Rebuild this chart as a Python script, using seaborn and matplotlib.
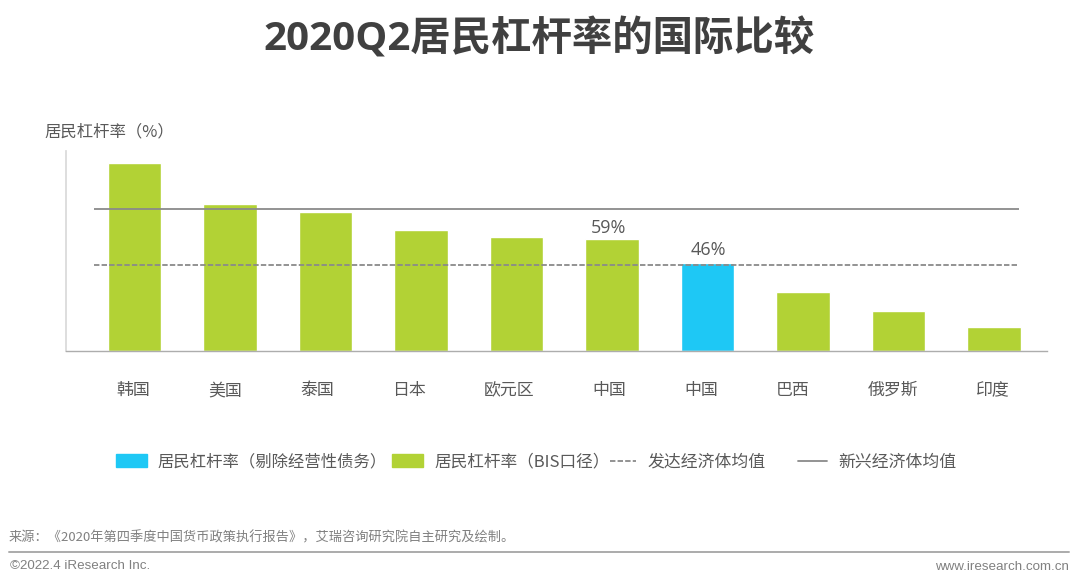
import matplotlib
matplotlib.use('Agg')
import matplotlib.pyplot as plt
from matplotlib.lines import Line2D
from matplotlib.patches import Rectangle
import seaborn as sns
import pandas as pd

countries = ['韩国', '美国', '泰国', '日本', '欧元区', '中国', '中国 ', '巴西', '俄罗斯', '印度']
tick_labels = ['韩国', '美国', '泰国', '日本', '欧元区', '中国', '中国', '巴西', '俄罗斯', '印度']
leverage = [99.6, 78, 73.4, 64, 60.5, 59.5, 46.6, 31, 21, 12.4]
caliber = ['BIS', 'BIS', 'BIS', 'BIS', 'BIS', 'BIS', 'adj', 'BIS', 'BIS', 'BIS']
emerging_avg = 75.5
developed_avg = 45.7
bar_labels = {5: '59%', 6: '46%'}

W, H = 1080, 586
GREEN = '#B2D235'
BLUE = '#1EC8F5'
GREY = '#8A8A8A'
TEXT = '#595959'
LATIN_CJK = ['Open Sans', 'Noto Sans CJK SC', 'DejaVu Sans']

sns.set_theme(style='white')
plt.rcParams['font.family'] = ['Noto Sans CJK SC', 'DejaVu Sans']


def fx(px):
    return px / W


def fy(py):
    return 1 - py / H


# axes box in pixels, bars sit 95.5px apart starting from x=134.5
left, right, top, bottom = 66, 1047, 151, 350.5
step = 95.5
x0 = 134.5

fig = plt.figure(figsize=(W / 100, H / 100), dpi=100, facecolor='white')
ax = fig.add_axes([fx(left), fy(bottom), fx(right - left), (bottom - top) / H])

df = pd.DataFrame({'country': countries, 'value': leverage, 'caliber': caliber})
sns.barplot(data=df, x='country', y='value', hue='caliber', dodge=False, legend=False,
            palette={'BIS': GREEN, 'adj': BLUE}, width=0.555, saturation=1, ax=ax, zorder=2)

ax.set_xlim((left - x0) / step, (right - x0) / step)
ax.set_ylim(0, 106.1)
ax.set_xlabel('')
ax.set_ylabel('')
ax.set_yticks([])
ax.patch.set_alpha(0)

# the labels in the source do not line up with the bars
label_px = [133, 225, 317, 409, 509, 609, 701, 793, 893, 993]
ax.set_xticks([(p - x0) / step for p in label_px])
ax.set_xticklabels(tick_labels, fontsize=12.2, color=TEXT)
ax.tick_params(axis='x', length=0, pad=22)

for side in ['top', 'right']:
    ax.spines[side].set_visible(False)
ax.spines['left'].set_color('#D9D9D9')
ax.spines['bottom'].set_color('#ADADAD')
ax.spines['bottom'].set_linewidth(1)
ax.spines['bottom'].set_zorder(3)

line_from, line_to = (94 - x0) / step, (1019 - x0) / step
ax.hlines(emerging_avg, line_from, line_to, color=GREY, lw=1.3, zorder=4)
ax.hlines(developed_avg, line_from, line_to, color=GREY, lw=1.3, linestyles=(0, (3, 1.2)), zorder=4)

label_gap = {5: 1.0, 6: 2.3}
for i, txt in bar_labels.items():
    ax.text(i - 0.04 if i == 5 else i + 0.01, leverage[i] + label_gap[i], txt, ha='center', va='bottom',
            fontsize=13, color=TEXT, family=['Open Sans', 'DejaVu Sans'])

fig.text(fx(539.5), fy(39), '2020Q2居民杠杆率的国际比较', ha='center', va='center',
         fontsize=29.1, fontweight='bold', color='#404040', family=LATIN_CJK)
fig.text(fx(44), fy(132), '居民杠杆率（%）', ha='left', va='center', fontsize=11.8, color=TEXT)

# legend is laid out by hand, the gaps in the source are uneven
fig.add_artist(Rectangle((fx(116), fy(467)), 31 / W, 13 / H, color=BLUE, transform=fig.transFigure))
fig.add_artist(Rectangle((fx(392), fy(467)), 31 / W, 13 / H, color=GREEN, transform=fig.transFigure))
fig.add_artist(Line2D([fx(610), fx(636)], [fy(461), fy(461)], color=GREY, lw=1.3,
                      linestyle=(0, (3, 1.2)), transform=fig.transFigure))
fig.add_artist(Line2D([fx(798), fx(827)], [fy(461), fy(461)], color=GREY, lw=1.3,
                      transform=fig.transFigure))
for px, txt, size in [(157, '居民杠杆率（剔除经营性债务）', 11.75), (434, '居民杠杆率（BIS口径）', 12),
                      (648, '发达经济体均值', 12.15), (838, '新兴经济体均值', 12.15)]:
    fig.text(fx(px), fy(462), txt, ha='left', va='center', fontsize=size, color=TEXT)

# footer
fig.text(fx(9), fy(538), '来源：《2020年第四季度中国货币政策执行报告》，艾瑞咨询研究院自主研究及绘制。',
         ha='left', va='center', fontsize=9.5, color='#808080')
fig.add_artist(Line2D([fx(9), fx(1069)], [fy(551.5), fy(551.5)], color='#ABABAB', lw=1.4,
                      transform=fig.transFigure))
fig.text(fx(10), fy(566), '©2022.4 iResearch Inc.', ha='left', va='center', fontsize=9.6,
         color='#808080', family=['Liberation Sans'])
fig.text(fx(1069), fy(567.5), 'www.iresearch.com.cn', ha='right', va='center', fontsize=9.65,
         color='#808080', family=['Liberation Sans'])

fig.savefig('out.png', dpi=100)
